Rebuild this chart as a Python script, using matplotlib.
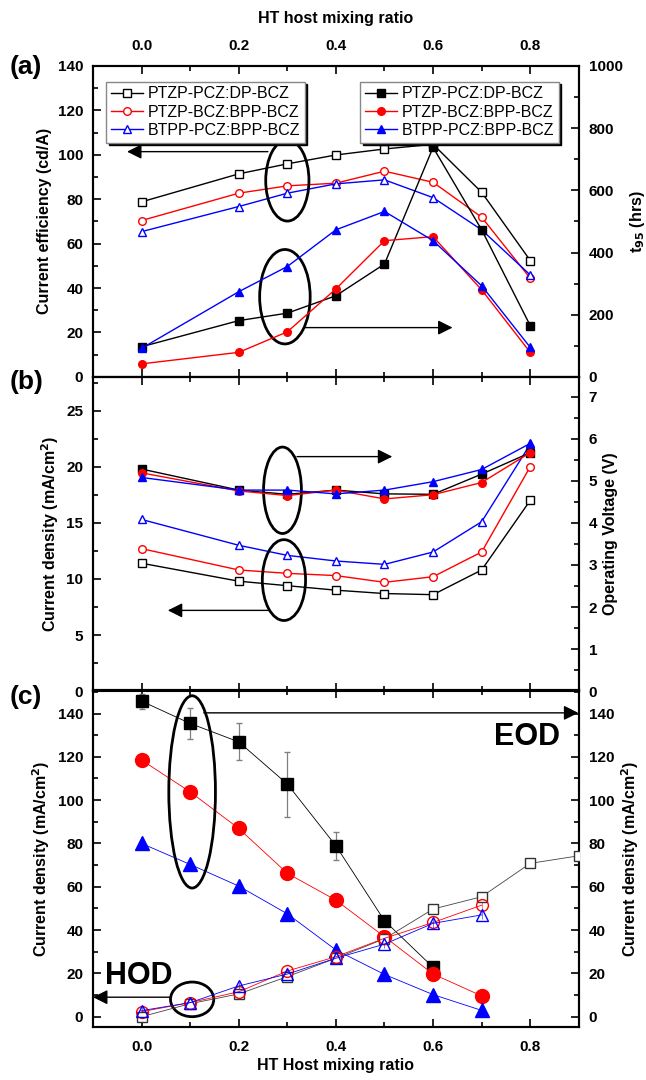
import numpy as np
import matplotlib.pyplot as plt
from matplotlib.patches import Ellipse
from matplotlib.ticker import MultipleLocator

plt.rcParams['font.family'] = ['Liberation Sans', 'DejaVu Sans']
plt.rcParams['font.weight'] = 'bold'
plt.rcParams['axes.labelweight'] = 'bold'

"""
    Data
"""
names = ["PTZP-PCZ:DP-BCZ", "PTZP-BCZ:BPP-BCZ", "BTPP-PCZ:BPP-BCZ"]
colors = ["black", "red", "blue"]
markers = ["s", "o", "^"]

ratio_ab = [0.0, 0.2, 0.3, 0.4, 0.5, 0.6, 0.7, 0.8]

# (a) current efficiency (cd/A), open symbols
ce_dp = [78.8, 91.4, 95.9, 99.9, 102.6, 104.7, 83.1, 52.4]
ce_bpp = [70.4, 82.7, 86.0, 87.2, 92.6, 87.6, 71.9, 44.4]
ce_btpp = [65.4, 76.7, 82.7, 86.9, 88.7, 80.7, 66.2, 45.9]

# (a) t95 lifetime (hrs), filled symbols
t95_dp = [97, 181, 205, 261, 363, 738, 473, 165]
t95_bpp = [42, 79, 145, 283, 438, 451, 280, 79]
t95_btpp = [92, 274, 355, 473, 532, 438, 293, 95]

# (b) current density (mA/cm2), open symbols
j_dp = [11.4, 9.8, 9.4, 9.0, 8.7, 8.6, 10.8, 17.0]
j_bpp = [12.7, 10.8, 10.5, 10.3, 9.7, 10.2, 12.4, 20.0]
j_btpp = [15.3, 13.0, 12.1, 11.6, 11.3, 12.4, 15.1, 22.0]

# (b) operating voltage (V), filled symbols
v_dp = [5.28, 4.78, 4.68, 4.78, 4.69, 4.68, 5.16, 5.67]
v_bpp = [5.19, 4.76, 4.65, 4.78, 4.57, 4.67, 4.96, 5.67]
v_btpp = [5.08, 4.78, 4.78, 4.69, 4.78, 4.98, 5.27, 5.89]

# (c) EOD current density, filled symbols
ratio_eod = [0.0, 0.1, 0.2, 0.3, 0.4, 0.5, 0.6, 0.7]
eod_dp = [145.7, 135.4, 126.9, 107.4, 78.9, 44.3, 22.8]
eod_dp_err = [3.5, 7.1, 8.5, 15.0, 6.5, 1.0, 1.0]
eod_bpp = [118.5, 103.8, 86.9, 66.2, 53.8, 36.9, 19.7, 9.6]
eod_btpp = [80.0, 70.3, 60.3, 47.5, 30.8, 19.5, 10.2, 2.9]

# (c) HOD current density, open symbols
ratio_hod_dp = [0.0, 0.1, 0.2, 0.3, 0.4, 0.5, 0.6, 0.7, 0.8, 0.9]
hod_dp = [0.0, 6.0, 10.5, 18.5, 27.0, 36.0, 49.7, 55.4, 70.8, 74.3]
ratio_hod = [0.0, 0.1, 0.2, 0.3, 0.4, 0.5, 0.6, 0.7]
hod_bpp = [2.3, 6.5, 11.5, 21.1, 27.7, 36.2, 43.5, 51.5]
hod_btpp = [2.8, 6.5, 14.2, 19.7, 27.0, 33.5, 43.1, 47.0]

"""
    Figure layout
"""
fig = plt.figure(figsize=(6.46, 10.8), dpi=100)
left, width = 0.144, 0.752
ax_a = fig.add_axes([left, 0.651, width, 0.288])
ax_b = fig.add_axes([left, 0.360, width, 0.291])
ax_c = fig.add_axes([left, 0.049, width, 0.312])
ax_ar = ax_a.twinx()
ax_br = ax_b.twinx()
ax_cr = ax_c.twinx()

tick_fs = 11
label_fs = 11.5


def style_axes(ax, axr):
    for a in (ax, axr):
        for s in a.spines.values():
            s.set_linewidth(1.5)
        a.tick_params(which='both', direction='in', width=1.2, labelsize=tick_fs)
        a.tick_params(which='major', length=6, pad=7)
        a.tick_params(which='minor', length=3.5)
    ax.set_xlim(-0.1, 0.9)
    ax.xaxis.set_major_locator(MultipleLocator(0.2))
    ax.xaxis.set_minor_locator(MultipleLocator(0.1))
    ax.tick_params(axis='x', which='both', top=True, bottom=True)
    ax.tick_params(axis='x', which='major', pad=9)


def add_ellipse(ax, xy, w, h):
    ax.add_patch(Ellipse(xy, w, h, fill=False, lw=2, ec='black', zorder=5))


def add_arrow(ax, tail, head):
    ax.annotate('', xy=head, xytext=tail,
                arrowprops=dict(arrowstyle='-|>', color='black', lw=1,
                                mutation_scale=22, shrinkA=0, shrinkB=0),
                annotation_clip=False)


"""
    (a) current efficiency and t95
"""
style_axes(ax_a, ax_ar)
ce_list = [ce_dp, ce_bpp, ce_btpp]
t95_list = [t95_dp, t95_bpp, t95_btpp]
open_handles = []
filled_handles = []
for i in range(3):
    h, = ax_a.plot(ratio_ab, ce_list[i], color=colors[i], marker=markers[i], lw=1,
                   ms=5.5, mfc='white', mec=colors[i], label=names[i])
    open_handles.append(h)
    h, = ax_ar.plot(ratio_ab, t95_list[i], color=colors[i], marker=markers[i], lw=1,
                    ms=5.5, mfc=colors[i], mec=colors[i], label=names[i])
    filled_handles.append(h)

ax_a.set_ylim(0, 140)
ax_a.yaxis.set_major_locator(MultipleLocator(20))
ax_a.yaxis.set_minor_locator(MultipleLocator(10))
ax_ar.set_ylim(0, 1000)
ax_ar.yaxis.set_major_locator(MultipleLocator(200))
ax_ar.yaxis.set_minor_locator(MultipleLocator(100))
ax_a.tick_params(axis='x', labeltop=True, labelbottom=False)
ax_a.xaxis.set_label_position('top')
ax_a.set_xlabel("HT host mixing ratio", fontsize=label_fs, labelpad=12)
ax_a.set_ylabel("Current efficiency (cd/A)", fontsize=label_fs)
ax_ar.set_ylabel("t$_{\\mathbf{95}}$ (hrs)", fontsize=label_fs)

leg_kw = dict(fontsize=11.5, frameon=True, fancybox=False, handlelength=2.0,
              borderpad=0.3, labelspacing=0.2, handletextpad=0.3,
              shadow={'color': 'black', 'alpha': 1, 'shade': 1})
leg1 = ax_a.legend(handles=open_handles, loc='upper left',
                   bbox_to_anchor=(0.01, 0.975), **leg_kw)
leg2 = ax_ar.legend(handles=filled_handles, loc='upper right',
                    bbox_to_anchor=(0.975, 0.975), **leg_kw)
for leg in (leg1, leg2):
    leg.get_frame().set_edgecolor('#888888')
    leg.get_frame().set_linewidth(1)
    for t in leg.get_texts():
        t.set_fontweight('normal')

add_ellipse(ax_a, (0.3, 88.4), 0.089, 36.5)
add_arrow(ax_a, (0.26, 101.4), (-0.03, 101.4))
add_ellipse(ax_a, (0.295, 36.1), 0.104, 42.5)
add_arrow(ax_a, (0.334, 22.2), (0.64, 22.2))

"""
    (b) current density and operating voltage
"""
style_axes(ax_b, ax_br)
j_list = [j_dp, j_bpp, j_btpp]
v_list = [v_dp, v_bpp, v_btpp]
for i in range(3):
    ax_b.plot(ratio_ab, j_list[i], color=colors[i], marker=markers[i], lw=1,
              ms=5.5, mfc='white', mec=colors[i])
    ax_br.plot(ratio_ab, v_list[i], color=colors[i], marker=markers[i], lw=1,
               ms=5.5, mfc=colors[i], mec=colors[i])
ax_b.set_ylim(0, 28)
ax_b.yaxis.set_major_locator(MultipleLocator(5))
ax_b.yaxis.set_minor_locator(MultipleLocator(2.5))
ax_br.set_ylim(0, 7.47)
ax_br.yaxis.set_major_locator(MultipleLocator(1))
ax_br.yaxis.set_minor_locator(MultipleLocator(0.5))
ax_b.tick_params(axis='x', labelbottom=False)
ax_b.set_ylabel("Current density (mA/cm$^{\\mathbf{2}}$)", fontsize=label_fs)
ax_br.set_ylabel("Operating Voltage (V)", fontsize=label_fs)

add_ellipse(ax_b, (0.29, 17.9), 0.078, 7.7)
add_arrow(ax_b, (0.32, 20.9), (0.516, 20.9))
add_ellipse(ax_b, (0.293, 9.9), 0.089, 7.2)
add_arrow(ax_b, (0.262, 7.2), (0.054, 7.2))

"""
    (c) EOD / HOD current density
"""
style_axes(ax_c, ax_cr)
ax_c.errorbar(ratio_eod[:len(eod_dp)], eod_dp, yerr=eod_dp_err, color='black', lw=0.6,
              marker='s', ms=8, mfc='black', mec='black', ecolor='gray',
              elinewidth=0.9, capsize=2.5, zorder=3)
ax_c.errorbar(ratio_eod, eod_bpp, yerr=1.5, color='red', lw=0.6, marker='o', ms=10,
              mfc='red', mec='red', ecolor='#ff9999', elinewidth=0.8, capsize=0, zorder=3)
ax_c.errorbar(ratio_eod, eod_btpp, yerr=1.5, color='blue', lw=0.6, marker='^', ms=10,
              mfc='blue', mec='blue', ecolor='#9999ff', elinewidth=0.8, capsize=0, zorder=3)

ax_cr.errorbar(ratio_hod_dp, hod_dp, yerr=2, color='#444444', lw=0.6, marker='s', ms=7,
               mfc='white', mec='#333333', ecolor='#555555', elinewidth=0.7, capsize=0,
               zorder=3)
ax_cr.errorbar(ratio_hod, hod_bpp, yerr=2, color='red', lw=0.6, marker='o', ms=8.5,
               mfc='none', mec='red', ecolor='#ff7777', elinewidth=0.7, capsize=0, zorder=3)
ax_cr.errorbar(ratio_hod, hod_btpp, yerr=2, color='blue', lw=0.6, marker='^', ms=8.5,
               mfc='none', mec='blue', ecolor='#7777ff', elinewidth=0.7, capsize=0, zorder=3)

for a in (ax_c, ax_cr):
    a.set_ylim(-4.8, 150.8)
    a.yaxis.set_major_locator(MultipleLocator(20))
    a.yaxis.set_minor_locator(MultipleLocator(10))
ax_c.set_xlabel("HT Host mixing ratio", fontsize=label_fs, labelpad=3)
ax_c.set_ylabel("Current density (mA/cm$^{\\mathbf{2}}$)", fontsize=label_fs)
ax_cr.set_ylabel("Current density (mA/cm$^{\\mathbf{2}}$)", fontsize=label_fs)

add_ellipse(ax_c, (0.104, 103.8), 0.096, 88.8)
add_arrow(ax_c, (0.128, 140.3), (0.899, 140.3))
add_ellipse(ax_c, (0.104, 8.0), 0.089, 16)
add_arrow(ax_c, (0.06, 9.0), (-0.1, 9.0))
ax_c.text(0.793, 129, "EOD", fontsize=22, fontweight='bold', ha='center', va='center')
ax_c.text(-0.005, 18.8, "HOD", fontsize=22, fontweight='bold', ha='center', va='center')

for a in (ax_a, ax_ar, ax_b, ax_br, ax_c, ax_cr):
    for lbl in a.get_xticklabels() + a.get_yticklabels():
        lbl.set_fontweight('bold')

"""
    Panel labels
"""
fig.text(0.015, 0.938, "(a)", fontsize=19, fontweight='bold', va='center')
fig.text(0.015, 0.646, "(b)", fontsize=19, fontweight='bold', va='center')
fig.text(0.015, 0.355, "(c)", fontsize=19, fontweight='bold', va='center')

fig.savefig("out.png", dpi=100)
